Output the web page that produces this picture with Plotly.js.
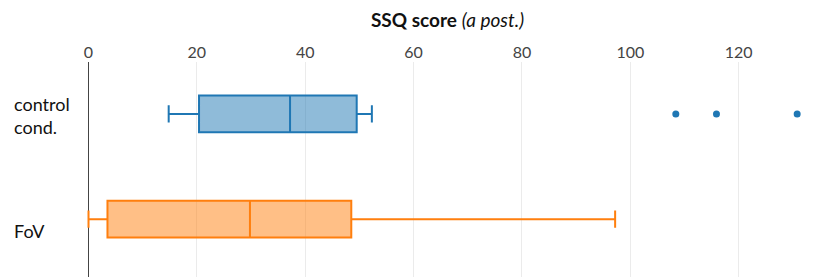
<!DOCTYPE html>
<html>
<head>
<meta charset="utf-8">
<script src="https://cdn.plot.ly/plotly-3.0.1.min.js"></script>
<style>html,body{margin:0;padding:0;background:#fff;}#chart{width:830px;height:277px;}</style>
</head>
<body>
<div id="chart"></div>
<script>
// ---- data ----
const categories = ["control cond.", "FoV"];
const categoryLabels = ["control<br>cond.", "FoV"];
const lowerWhisker = [14.8, 0.0];
const q1Values = [20.4, 3.5];
const medianValues = [37.2, 29.8];
const q3Values = [49.5, 48.5];
const upperWhisker = [52.3, 97.2];
const controlOutliers = [108.4, 115.9, 130.8];
const tickValues = [0, 20, 40, 60, 80, 100, 120];
const tickLabels = ["0", "20", "40", "60", "80", "100", "120"];

// ---- styling ----
const colors = ["#1f77b4", "#ff7f0e"];
const FONT = "Lato, 'Open Sans', sans-serif";

function hexToRgba(hex, a) {
  const n = parseInt(hex.slice(1), 16);
  return `rgba(${(n >> 16) & 255},${(n >> 8) & 255},${n & 255},${a})`;
}

const traces = categories.map((c, i) => ({
  type: "box",
  orientation: "h",
  name: c,
  y: [c],
  q1: [q1Values[i]],
  median: [medianValues[i]],
  q3: [q3Values[i]],
  lowerfence: [lowerWhisker[i]],
  upperfence: [upperWhisker[i]],
  line: {color: colors[i], width: 2},
  fillcolor: hexToRgba(colors[i], 0.5),
  whiskerwidth: 0.47,
  boxpoints: false,
  hoverinfo: "x"
}));

traces.push({
  type: "scatter",
  mode: "markers",
  x: controlOutliers,
  y: controlOutliers.map(() => categories[0]),
  marker: {color: colors[0], size: 7},
  showlegend: false,
  hoverinfo: "x"
});

// category labels: left-aligned at the left edge
const labelCenterShift = [2, 12];
const annotations = categoryLabels.map((lab, i) => ({
  xref: "paper", yref: "y",
  x: -68 / 735, y: categories[i],
  xanchor: "left", yanchor: "middle", align: "left",
  yshift: -labelCenterShift[i],
  text: lab, showarrow: false,
  font: {family: FONT, size: 18, color: "#111"}
}));

const layout = {
  width: 830, height: 277,
  margin: {l: 80, r: 15, t: 62, b: 0, pad: 0},
  paper_bgcolor: "#fff", plot_bgcolor: "#fff",
  showlegend: false,
  boxgap: 0.5,
  font: {family: FONT},
  title: {
    text: "<b>SSQ score</b> <i>(a post.)</i>",
    font: {family: FONT, size: 19, color: "#111"},
    x: 0.5, xref: "paper", xanchor: "center",
    y: 1 - 20 / 277, yref: "container", yanchor: "middle"
  },
  xaxis: {
    side: "top",
    range: [-1.57, 134.09],
    tickvals: tickValues, ticktext: tickLabels,
    ticks: "", showline: false,
    showgrid: true, gridcolor: "#ebebeb", gridwidth: 1,
    zeroline: true, zerolinecolor: "#444", zerolinewidth: 1.5,
    tickfont: {family: FONT, size: 16, color: "#444"}
  },
  yaxis: {
    type: "category",
    categoryorder: "array", categoryarray: categories,
    range: [1.549, -0.493],
    showticklabels: false, showgrid: false, zeroline: false, ticks: ""
  },
  annotations: annotations
};

Plotly.newPlot("chart", traces, layout, {displayModeBar: false, staticPlot: true});
</script>
</body>
</html>
